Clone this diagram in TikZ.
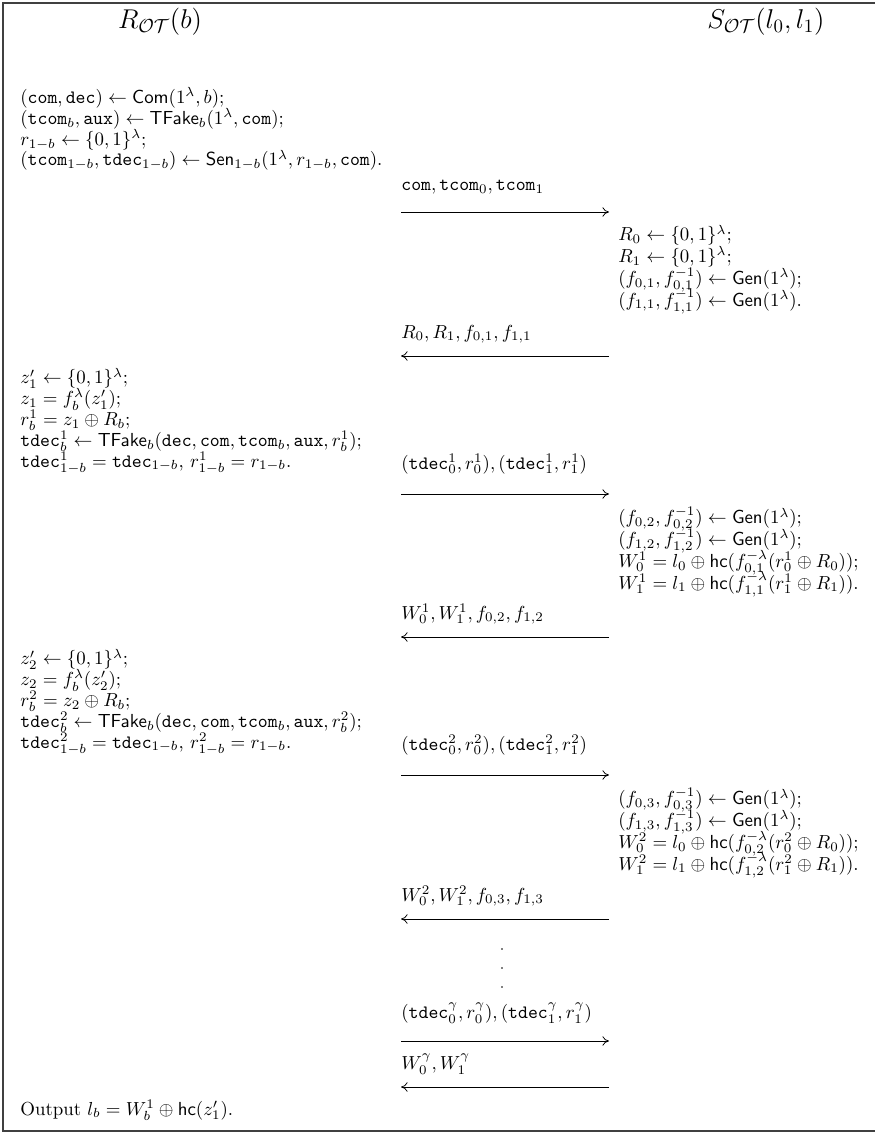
\documentclass[tikz,border=0pt]{standalone}
\usetikzlibrary{arrows.meta}
\begin{document}
\begin{tikzpicture}[x=0.53pt, y=-0.53pt, >={To[length=3.5pt,width=5pt]},
            party/.style={font=\Large, inner sep=0pt},
            lines/.style={align=left, anchor=base west, inner sep=0pt,
                          font={\setlength{\baselineskip}{#1}\setlength{\lineskiplimit}{-20pt}}},
            lines/.default=11pt,
            msg/.style={anchor=base west, inner sep=0pt},
            flow/.style={->, thin}]

            \useasboundingbox (0,0) rectangle (874,1134);
            \draw[line width=0.8pt, black!75] (880,3) -- (3,3) -- (3,1131) -- (880,1131);

            % the two parties
            \node[party] (recv) at (160,22) {$R_{\mathcal{OT}}(b)$};
            \node[party] (send) at (766,22) {$S_{\mathcal{OT}}(l_0,l_1)$};

            % receiver: setup (anchored at the last line)
            \node[lines] (rcv0) at (20,166) {$(\mathtt{com},\mathtt{dec})\leftarrow\mathsf{Com}(1^\lambda,b)$;\\
                $(\mathtt{tcom}_b,\mathtt{aux})\leftarrow\mathsf{TFake}_b(1^\lambda,\mathtt{com})$;\\
                $r_{1-b}\leftarrow\{0,1\}^\lambda$;\\
                $(\mathtt{tcom}_{1-b},\mathtt{tdec}_{1-b})\leftarrow\mathsf{Sen}_{1-b}(1^\lambda,r_{1-b},\mathtt{com})$.};

            \node[msg] (msg1) at (401,191) {$\mathtt{com},\mathtt{tcom}_0,\mathtt{tcom}_1$};
            \coordinate (m1s) at (401,212);
            \coordinate (m1e) at (609,212);

            % sender: round 1
            \node[lines=11.5pt] (snd1) at (618,306) {$R_0\leftarrow\{0,1\}^\lambda$;\\
                $R_1\leftarrow\{0,1\}^\lambda$;\\
                $(f_{0,1},f_{0,1}^{-1})\leftarrow\mathsf{Gen}(1^\lambda)$;\\
                $(f_{1,1},f_{1,1}^{-1})\leftarrow\mathsf{Gen}(1^\lambda)$.};

            \node[msg] (msg2) at (401,338) {$R_0,R_1,f_{0,1},f_{1,1}$};
            \coordinate (m2s) at (609,356);
            \coordinate (m2e) at (401,356);

            % receiver: round 1
            \node[lines] (rcv1) at (20,467) {$z_1'\leftarrow\{0,1\}^\lambda$;\\
                $z_1=f_b^\lambda(z_1')$;\\
                $r_b^1=z_1\oplus R_b$;\\
                $\mathtt{tdec}_b^1\leftarrow\mathsf{TFake}_b(\mathtt{dec},\mathtt{com},\mathtt{tcom}_b,\mathtt{aux},r_b^1)$;\\
                $\mathtt{tdec}_{1-b}^1=\mathtt{tdec}_{1-b}$, $r_{1-b}^1=r_{1-b}$.};

            \node[msg] (msg3) at (401,469) {$(\mathtt{tdec}_0^1,r_0^1),(\mathtt{tdec}_1^1,r_1^1)$};
            \coordinate (m3s) at (401,494);
            \coordinate (m3e) at (609,494);

            % sender: round 2
            \node[lines=11.5pt] (snd2) at (618,589) {$(f_{0,2},f_{0,2}^{-1})\leftarrow\mathsf{Gen}(1^\lambda)$;\\
                $(f_{1,2},f_{1,2}^{-1})\leftarrow\mathsf{Gen}(1^\lambda)$;\\
                $W_0^1=l_0\oplus\mathsf{hc}(f_{0,1}^{-\lambda}(r_0^1\oplus R_0))$;\\
                $W_1^1=l_1\oplus\mathsf{hc}(f_{1,1}^{-\lambda}(r_1^1\oplus R_1))$.};

            \node[msg] (msg4) at (401,619) {$W_0^1,W_1^1,f_{0,2},f_{1,2}$};
            \coordinate (m4s) at (609,637);
            \coordinate (m4e) at (401,637);

            % receiver: round 2
            \node[lines] (rcv2) at (20,748) {$z_2'\leftarrow\{0,1\}^\lambda$;\\
                $z_2=f_b^\lambda(z_2')$;\\
                $r_b^2=z_2\oplus R_b$;\\
                $\mathtt{tdec}_b^2\leftarrow\mathsf{TFake}_b(\mathtt{dec},\mathtt{com},\mathtt{tcom}_b,\mathtt{aux},r_b^2)$;\\
                $\mathtt{tdec}_{1-b}^2=\mathtt{tdec}_{1-b}$, $r_{1-b}^2=r_{1-b}$.};

            \node[msg] (msg5) at (401,750) {$(\mathtt{tdec}_0^2,r_0^2),(\mathtt{tdec}_1^2,r_1^2)$};
            \coordinate (m5s) at (401,775);
            \coordinate (m5e) at (609,775);

            % sender: round 3
            \node[lines=11.5pt] (snd3) at (618,870) {$(f_{0,3},f_{0,3}^{-1})\leftarrow\mathsf{Gen}(1^\lambda)$;\\
                $(f_{1,3},f_{1,3}^{-1})\leftarrow\mathsf{Gen}(1^\lambda)$;\\
                $W_0^2=l_0\oplus\mathsf{hc}(f_{0,2}^{-\lambda}(r_0^2\oplus R_0))$;\\
                $W_1^2=l_1\oplus\mathsf{hc}(f_{1,2}^{-\lambda}(r_1^2\oplus R_1))$.};

            \node[msg] (msg6) at (401,901) {$W_0^2,W_1^2,f_{0,3},f_{1,3}$};
            \coordinate (m6s) at (609,919);
            \coordinate (m6e) at (401,919);

            % and so on
            \foreach \y in {949,968,987}
                \fill (502,\y) circle (0.5pt);

            \node[msg] (msg7) at (401,1018) {$(\mathtt{tdec}_0^\gamma,r_0^\gamma),(\mathtt{tdec}_1^\gamma,r_1^\gamma)$};
            \coordinate (m7s) at (401,1041);
            \coordinate (m7e) at (609,1041);

            \node[msg] (msg8) at (401,1069) {$W_0^\gamma,W_1^\gamma$};
            \coordinate (m8s) at (609,1087);
            \coordinate (m8e) at (401,1087);

            \node[msg] (out) at (20,1115) {Output $l_b=W_b^1\oplus\mathsf{hc}(z_1')$.};

            % messages
            \draw[flow] (m1s) -- (m1e);
            \draw[flow] (m2s) -- (m2e);
            \draw[flow] (m3s) -- (m3e);
            \draw[flow] (m4s) -- (m4e);
            \draw[flow] (m5s) -- (m5e);
            \draw[flow] (m6s) -- (m6e);
            \draw[flow] (m7s) -- (m7e);
            \draw[flow] (m8s) -- (m8e);
        \end{tikzpicture}
\end{document}
